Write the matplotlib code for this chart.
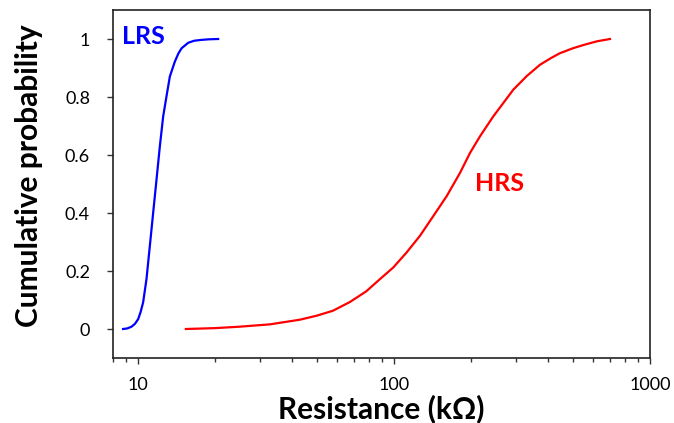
import matplotlib
matplotlib.use("Agg")
import matplotlib.pyplot as plt
from matplotlib.ticker import LogLocator, FixedLocator, FixedFormatter, NullFormatter

# LRS cumulative distribution (resistance in kOhm)
lrs_r = [8.76, 9.1, 9.45, 9.75, 10.03, 10.25, 10.49, 10.81, 11.14, 11.48, 11.83, 12.19, 12.56,
         12.94, 13.34, 13.95, 14.4, 14.82, 15.73, 16.6, 17.74, 19.0, 20.59]
lrs_p = [0.0, 0.002, 0.008, 0.018, 0.034, 0.058, 0.092, 0.172, 0.286, 0.401, 0.515, 0.630, 0.733,
         0.802, 0.871, 0.922, 0.950, 0.968, 0.987, 0.994, 0.997, 0.999, 1.0]

# HRS cumulative distribution (resistance in kOhm)
hrs_r = [15.4, 20.0, 25.0, 32.8, 42.9, 50.0, 57.8, 67.3, 78.0, 88.2, 99.4, 112.1, 126.3, 142.4,
         160.7, 181.1, 198.2, 216.7, 244.3, 267.3, 292.4, 330.0, 371.7, 410.0, 444.8, 500.0,
         548.3, 620.0, 698.0]
hrs_p = [0.0, 0.003, 0.008, 0.016, 0.032, 0.046, 0.063, 0.093, 0.130, 0.172, 0.212, 0.264, 0.321,
         0.389, 0.458, 0.538, 0.607, 0.664, 0.733, 0.779, 0.825, 0.872, 0.911, 0.934, 0.951,
         0.968, 0.979, 0.992, 1.0]

x_ticks = [10, 100, 1000]
x_tick_labels = ["10", "100", "1000"]
y_ticks = [0, 0.2, 0.4, 0.6, 0.8, 1.0]
y_tick_labels = ["0", "0.2", "0.4", "0.6", "0.8", "1"]

plt.rcParams['font.family'] = ['Lato', 'DejaVu Sans']

fig = plt.figure(figsize=(6.74, 4.23), dpi=100)
ax = fig.add_axes([113/674, 1-358/423, (650-113)/674, (358-10)/423])

ax.plot(lrs_r, lrs_p, color=(0, 0, 1), lw=1.6)
ax.plot(hrs_r, hrs_p, color=(1, 0, 0), lw=1.6)

ax.set_xscale('log')
ax.set_xlim(8, 1000)
ax.set_ylim(-0.1, 1.1)

ax.xaxis.set_major_locator(FixedLocator(x_ticks))
ax.xaxis.set_major_formatter(FixedFormatter(x_tick_labels))
ax.xaxis.set_minor_locator(LogLocator(base=10, subs=range(2, 10)))
ax.xaxis.set_minor_formatter(NullFormatter())
ax.yaxis.set_major_locator(FixedLocator(y_ticks))
ax.yaxis.set_major_formatter(FixedFormatter(y_tick_labels))

ax.tick_params(axis='both', which='major', direction='out', length=4.5, width=1, labelsize=13, color='#333333')
ax.tick_params(axis='x', which='major', pad=9)
ax.tick_params(axis='y', which='major', pad=12)
ax.tick_params(axis='x', which='minor', direction='out', length=3, width=1, color='#333333')
ax.tick_params(top=False, right=False)

for s in ax.spines.values():
    s.set_linewidth(1.2)
    s.set_color('#222222')

ax.set_xlabel("Resistance (kΩ)", fontsize=21.5, fontweight='bold', labelpad=1)
ax.set_ylabel("Cumulative probability", fontsize=21.5, fontweight='bold')
ax.yaxis.set_label_coords(-0.13, 0.525)

ax.text(8.71, 1.01, "LRS", color=(0, 0, 1), fontsize=18, fontweight='bold', ha='left', va='center')
ax.text(207, 0.502, "HRS", color=(1, 0, 0), fontsize=18, fontweight='bold', ha='left', va='center')

fig.savefig("out.png", dpi=100)
